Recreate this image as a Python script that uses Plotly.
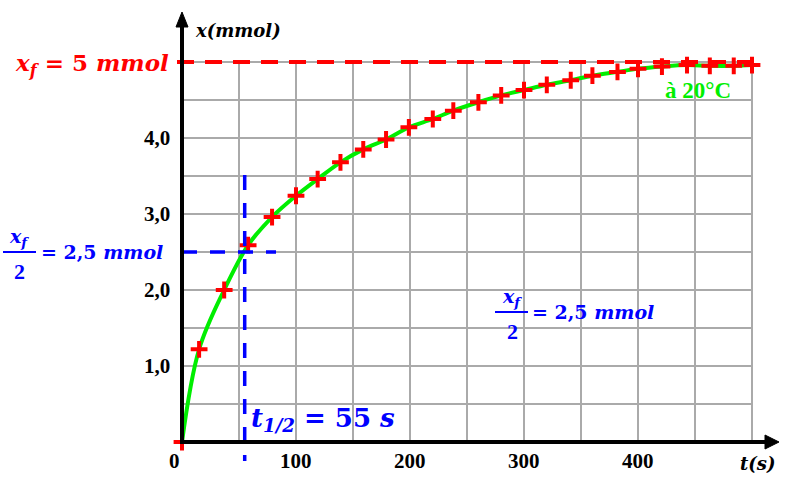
import plotly.graph_objects as go

# ---------------- data ----------------
t_s = [0, 15, 37, 58, 79, 100, 119, 139, 159, 179, 199, 220, 238, 260, 280,
       300, 320, 341, 360, 382, 400, 421, 443, 463, 484, 500]
x_mmol = [0.0, 1.22, 2.00, 2.59, 2.96, 3.24, 3.46, 3.68, 3.85, 3.98, 4.14, 4.25,
          4.36, 4.47, 4.56, 4.63, 4.70, 4.76, 4.82, 4.87, 4.91, 4.94, 4.96, 4.95,
          4.95, 4.96]
x_ticks = [0, 100, 200, 300, 400]
x_ticklabels = ["0", "100", "200", "300", "400"]
y_ticks = [1, 2, 3, 4]
y_ticklabels = ["1,0", "2,0", "3,0", "4,0"]
x_grid = [50 * i for i in range(1, 11)]
y_grid = [0.5 * i for i in range(1, 11)]
x_final = 5.0
x_half = 2.5
t_half = 55
t_max = 500

# ---------------- layout constants (pixel mapping) ----------------
W, H = 800, 490
X0PX, XS = 182, 1.14
Y0PX, YS = 442, 76.0


def px2t(px):
    return (px - X0PX) / XS


def px2v(py):
    return (Y0PX - py) / YS


FONT = "Liberation Serif"
IFONT = "DejaVu Serif"
RED = "#ff0000"
BLUE = "#0000ff"
GREEN = "#00ee00"
GRID = "#aaaaaa"

fig = go.Figure()

shapes = []
for g in x_grid:
    shapes.append(dict(type="line", x0=g, x1=g, y0=0, y1=x_final,
                       line=dict(color=GRID, width=2), layer="below"))
for g in y_grid:
    shapes.append(dict(type="line", x0=0, x1=t_max, y0=g, y1=g,
                       line=dict(color=GRID, width=2), layer="below"))

shapes.append(dict(type="line", x0=px2t(177), x1=px2t(756), y0=x_final, y1=x_final,
                   line=dict(color=RED, width=4, dash="17px,11px"), layer="above"))
shapes.append(dict(type="line", x0=t_half, x1=t_half, y0=px2v(175), y1=px2v(461),
                   line=dict(color=BLUE, width=3.5, dash="15px,13px"), layer="above"))
shapes.append(dict(type="line", x0=0, x1=px2t(276), y0=x_half, y1=x_half,
                   line=dict(color=BLUE, width=3.5, dash="15px,13px"), layer="above"))

shapes.append(dict(type="line", x0=px2t(180), x1=px2t(768), y0=0, y1=0,
                   line=dict(color="black", width=4), layer="above"))
shapes.append(dict(type="line", x0=0, x1=0, y0=px2v(444), y1=px2v(24),
                   line=dict(color="black", width=4), layer="above"))
shapes.append(dict(type="path",
                   path=f"M {px2t(779)} 0 L {px2t(765)} {px2v(Y0PX-7)} L {px2t(765)} {px2v(Y0PX+7)} Z",
                   fillcolor="black", line=dict(color="black", width=1), layer="above"))
shapes.append(dict(type="path",
                   path=f"M 0 {px2v(12)} L {px2t(X0PX-6)} {px2v(27)} L {px2t(X0PX+6)} {px2v(27)} Z",
                   fillcolor="black", line=dict(color="black", width=1), layer="above"))

shapes.append(dict(type="line", x0=px2t(3), x1=px2t(36), y0=px2v(252), y1=px2v(252),
                   line=dict(color=BLUE, width=2)))
shapes.append(dict(type="line", x0=px2t(495), x1=px2t(528), y0=px2v(312), y1=px2v(312),
                   line=dict(color=BLUE, width=2)))

fig.add_trace(go.Scatter(x=t_s, y=x_mmol, mode="lines",
                         line=dict(color=GREEN, width=4, shape="spline", smoothing=1.0),
                         hoverinfo="skip", showlegend=False))
fig.add_trace(go.Scatter(x=t_s, y=x_mmol, mode="markers",
                         marker=dict(symbol="cross-thin", size=12,
                                     line=dict(color=RED, width=4), color=RED),
                         showlegend=False, cliponaxis=False))

ann = []
for v, lab in zip(x_ticks, x_ticklabels):
    xx = v if v != 0 else px2t(174)
    ann.append(dict(x=xx, y=px2v(461), text=f"<b>{lab}</b>", showarrow=False,
                    xanchor="center", yanchor="middle",
                    font=dict(family=FONT, size=21, color="black")))
for v, lab in zip(y_ticks, y_ticklabels):
    ann.append(dict(x=px2t(172), y=v, text=f"<b>{lab}</b>", showarrow=False,
                    xanchor="right", yanchor="middle",
                    font=dict(family=FONT, size=21, color="black")))

ann.append(dict(x=px2t(193), y=px2v(30), text="<b><i>x(mmol)</i></b>", showarrow=False,
                xanchor="left", yanchor="middle", font=dict(family=IFONT, size=18, color="black")))
ann.append(dict(x=px2t(757), y=px2v(463), text="<b><i>t(s)</i></b>", showarrow=False,
                xanchor="center", yanchor="middle", font=dict(family=IFONT, size=18, color="black")))

ann.append(dict(x=px2t(171), y=px2v(64),
                text="<b><i>x</i><sub><i>f</i></sub> = 5 <i>mmol</i></b>", showarrow=False,
                xanchor="right", yanchor="middle", font=dict(family=IFONT, size=23, color=RED)))

# left fraction label
ann.append(dict(x=px2t(19), y=px2v(237), text="<b><i>x</i><sub><i>f</i></sub></b>",
                showarrow=False, xanchor="center", yanchor="middle",
                font=dict(family=IFONT, size=19, color=BLUE)))
ann.append(dict(x=px2t(19), y=px2v(271), text="<b>2</b>", showarrow=False,
                xanchor="center", yanchor="middle", font=dict(family=FONT, size=22, color=BLUE)))
ann.append(dict(x=px2t(39), y=px2v(252), text="<b>= 2,5 <i>mmol</i></b>", showarrow=False,
                xanchor="left", yanchor="middle", font=dict(family=IFONT, size=19, color=BLUE)))

# middle fraction label
ann.append(dict(x=px2t(512), y=px2v(297), text="<b><i>x</i><sub><i>f</i></sub></b>",
                showarrow=False, xanchor="center", yanchor="middle",
                font=dict(family=IFONT, size=19, color=BLUE)))
ann.append(dict(x=px2t(512), y=px2v(331), text="<b>2</b>", showarrow=False,
                xanchor="center", yanchor="middle", font=dict(family=FONT, size=22, color=BLUE)))
ann.append(dict(x=px2t(530), y=px2v(312), text="<b>= 2,5 <i>mmol</i></b>", showarrow=False,
                xanchor="left", yanchor="middle", font=dict(family=IFONT, size=19, color=BLUE)))

ann.append(dict(x=px2t(249), y=px2v(419),
                text="<b><i>t</i><sub><i>1/2</i></sub> = 55 <i>s</i></b>", showarrow=False,
                xanchor="left", yanchor="middle", font=dict(family=IFONT, size=26, color=BLUE)))

ann.append(dict(x=px2t(698), y=px2v(90), text="<b>à 20°C</b>", showarrow=False,
                xanchor="center", yanchor="middle", font=dict(family=FONT, size=23, color=GREEN)))

fig.update_layout(
    width=W, height=H, autosize=False,
    margin=dict(l=0, r=0, t=0, b=0),
    paper_bgcolor="white", plot_bgcolor="white",
    xaxis=dict(range=[px2t(0), px2t(W)], visible=False, fixedrange=True),
    yaxis=dict(range=[px2v(H), px2v(0)], visible=False, fixedrange=True),
    shapes=shapes, annotations=ann, showlegend=False,
)

fig.write_html("out.html")
